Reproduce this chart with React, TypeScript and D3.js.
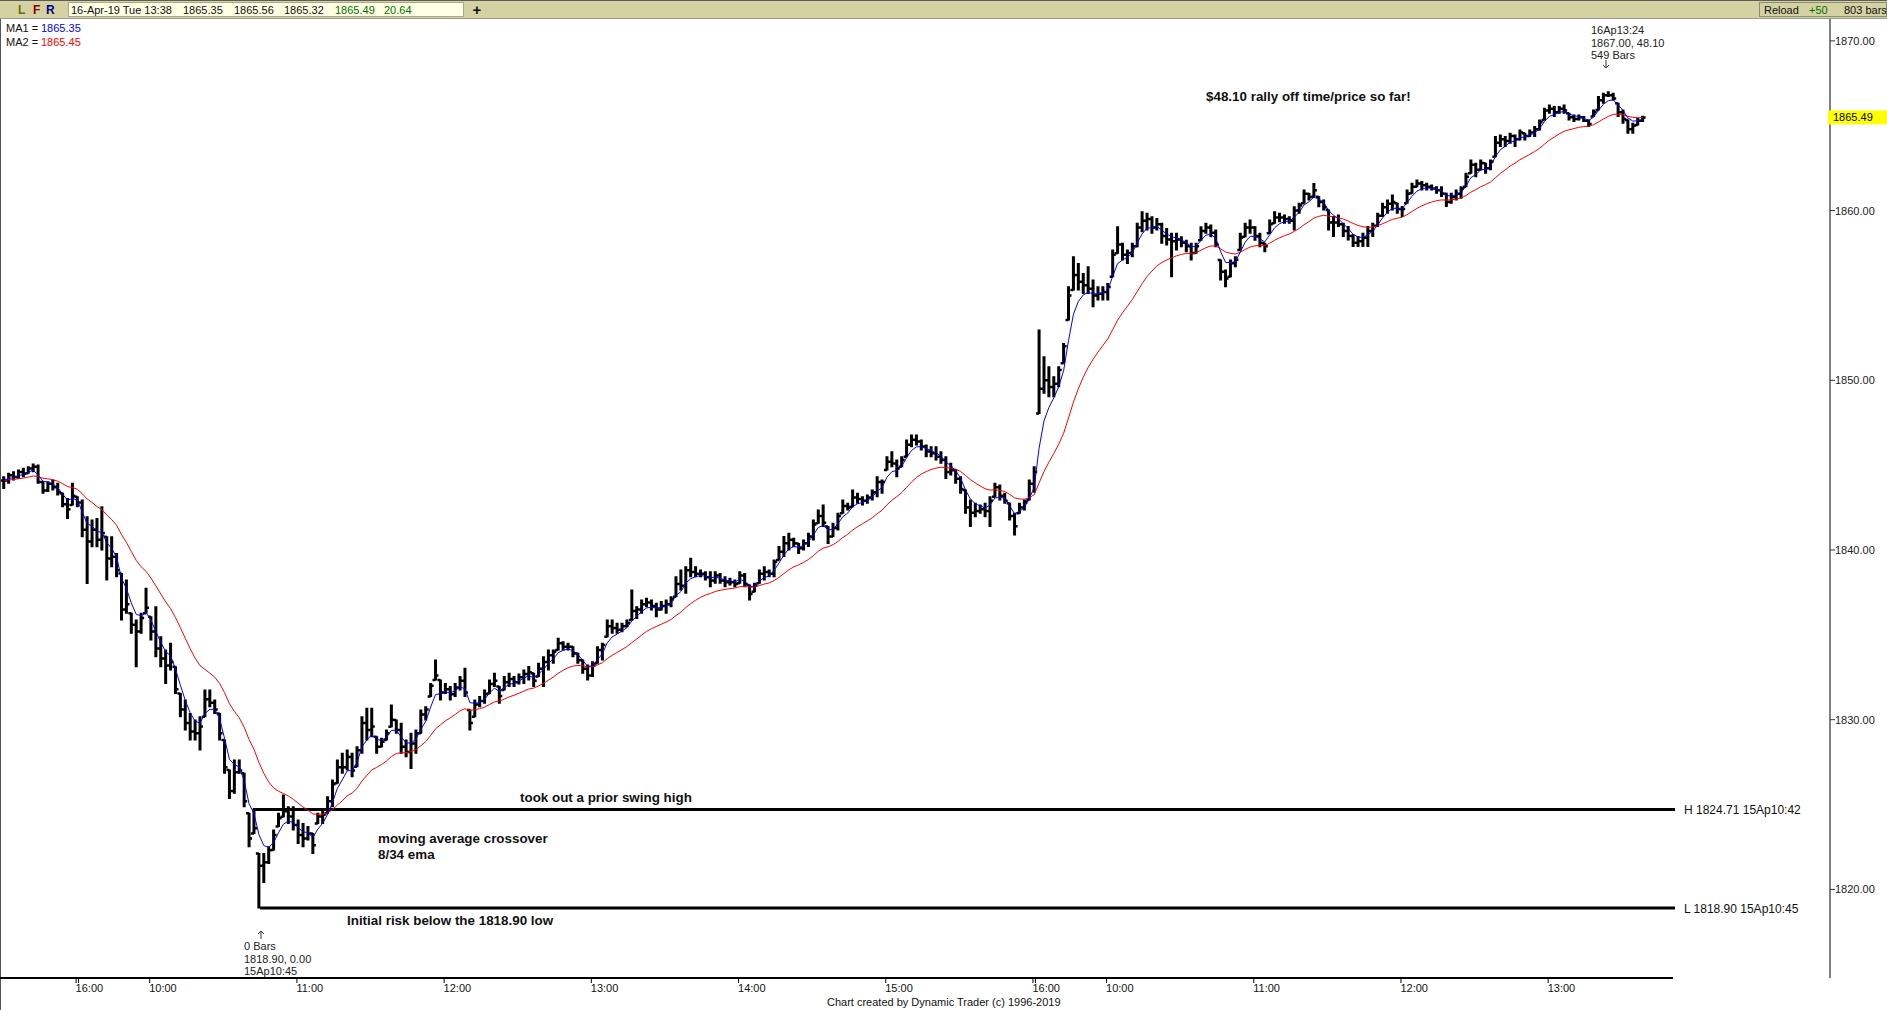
import React from "react";
import * as d3 from "d3";

// 2-minute bars (index j -> minutes 2j..2j+1 from 12-Apr 15:30)
const highs = [
  1844.32, 1844.52, 1844.61, 1844.71, 1844.81, 1844.91, 1845.07, 1845.01, 1844.02, 1844.02,
  1844.12, 1843.93, 1843.34, 1843.04, 1843.93, 1843.14, 1842.94, 1841.96, 1841.77, 1841.86,
  1842.55, 1840.78, 1840.78, 1839.80, 1838.62, 1838.23, 1836.27, 1835.87, 1836.27, 1837.74,
  1836.07, 1836.66, 1834.89, 1834.11, 1834.50, 1833.12, 1831.55, 1831.16, 1830.37, 1829.98,
  1830.18, 1831.75, 1831.75, 1831.16, 1830.37, 1828.80, 1827.03, 1827.62, 1827.62, 1826.84,
  1824.48, 1824.71, 1822.12, 1822.12, 1822.52, 1823.50, 1824.48, 1825.56, 1824.87, 1824.87,
  1824.09, 1823.89, 1823.70, 1823.30, 1824.48, 1824.68, 1825.46, 1826.45, 1827.62, 1828.02,
  1828.22, 1828.02, 1828.41, 1830.18, 1830.67, 1830.67, 1829.00, 1828.90, 1829.39, 1830.87,
  1829.98, 1829.79, 1828.80, 1829.20, 1829.39, 1830.57, 1830.77, 1832.14, 1833.52, 1832.34,
  1832.14, 1831.95, 1832.14, 1832.54, 1833.03, 1830.57, 1831.16, 1831.36, 1831.75, 1832.34,
  1832.73, 1831.95, 1832.54, 1832.73, 1832.54, 1832.70, 1832.93, 1833.13, 1832.73, 1833.32,
  1833.71, 1834.11, 1834.11, 1834.80, 1834.60, 1834.50, 1834.30, 1833.91, 1833.52, 1833.22,
  1833.42, 1834.30, 1834.50, 1835.88, 1835.88, 1835.68, 1835.68, 1835.88, 1837.64, 1836.66,
  1837.05, 1837.15, 1837.05, 1836.86, 1836.96, 1837.05, 1837.25, 1838.43, 1838.82, 1839.02,
  1839.51, 1839.02, 1838.82, 1838.72, 1838.72, 1838.72, 1838.62, 1838.43, 1838.33, 1838.23,
  1838.72, 1838.62, 1837.94, 1838.04, 1838.82, 1839.02, 1838.82, 1839.41, 1840.20, 1840.79,
  1840.98, 1840.69, 1840.39, 1840.59, 1840.98, 1841.77, 1842.36, 1842.65, 1841.38, 1841.57,
  1842.16, 1842.95, 1842.75, 1843.54, 1843.34, 1843.14, 1843.24, 1843.54, 1844.32, 1844.12,
  1845.50, 1845.79, 1845.30, 1845.50, 1846.48, 1846.78, 1846.78, 1846.48, 1846.19, 1846.09,
  1846.09, 1845.79, 1845.50, 1845.11, 1844.71, 1844.32, 1843.54, 1842.95, 1842.75, 1842.65,
  1842.75, 1843.14, 1843.93, 1843.83, 1843.34, 1842.75, 1842.16, 1842.75, 1842.95, 1844.12,
  1844.90, 1852.96, 1851.39, 1850.80, 1850.21, 1850.80, 1852.17, 1855.51, 1857.28, 1856.89,
  1856.30, 1856.69, 1855.91, 1855.51, 1855.51, 1855.71, 1857.68, 1859.05, 1858.07, 1857.68,
  1858.07, 1859.25, 1859.93, 1859.84, 1859.64, 1859.54, 1859.25, 1858.95, 1858.66, 1858.66,
  1858.46, 1858.26, 1858.07, 1858.07, 1859.05, 1859.25, 1859.15, 1858.85, 1857.09, 1856.50,
  1857.09, 1857.28, 1858.66, 1859.25, 1859.44, 1859.05, 1858.66, 1858.07, 1859.44, 1859.93,
  1859.84, 1859.74, 1859.64, 1860.23, 1860.43, 1861.21, 1861.01, 1861.60, 1860.82, 1860.62,
  1860.03, 1859.65, 1859.74, 1859.25, 1859.06, 1858.57, 1858.47, 1858.66, 1859.06, 1859.25,
  1859.84, 1860.43, 1860.63, 1860.92, 1860.43, 1860.24, 1861.22, 1861.61, 1861.81, 1861.71,
  1861.61, 1861.51, 1861.41, 1861.41, 1861.02, 1861.02, 1861.22, 1861.41, 1862.20, 1862.98,
  1862.79, 1862.98, 1862.79, 1862.98, 1864.36, 1864.46, 1864.36, 1864.56, 1864.46, 1864.75,
  1864.56, 1864.75, 1864.95, 1865.34, 1866.03, 1866.23, 1866.13, 1866.13, 1866.23, 1865.74,
  1865.64, 1865.64, 1865.54, 1865.34, 1865.93, 1866.72, 1866.91, 1867.00, 1866.91, 1866.33,
  1865.93, 1865.34, 1865.15, 1865.44, 1865.56,
];

const lows = [
  1843.63, 1843.93, 1844.12, 1844.22, 1844.32, 1844.52, 1844.61, 1843.93, 1843.34, 1843.44,
  1843.53, 1843.24, 1842.55, 1841.86, 1842.65, 1842.55, 1840.78, 1838.03, 1840.19, 1840.19,
  1840.00, 1838.23, 1839.02, 1838.43, 1835.87, 1836.27, 1835.09, 1833.12, 1835.09, 1836.27,
  1834.70, 1833.71, 1833.12, 1832.14, 1832.93, 1831.55, 1830.18, 1829.39, 1828.80, 1828.80,
  1828.21, 1830.18, 1830.77, 1830.37, 1828.80, 1826.84, 1825.36, 1825.66, 1826.84, 1824.87,
  1822.52, 1823.30, 1818.90, 1820.40, 1821.53, 1822.32, 1823.70, 1824.28, 1823.89, 1823.50,
  1822.71, 1822.52, 1822.91, 1822.12, 1823.89, 1823.89, 1824.48, 1824.87, 1826.25, 1826.84,
  1827.04, 1826.64, 1827.23, 1828.02, 1828.80, 1829.00, 1828.02, 1828.41, 1828.80, 1829.59,
  1829.20, 1828.02, 1827.82, 1827.13, 1828.02, 1829.20, 1829.98, 1831.36, 1832.34, 1831.16,
  1831.55, 1831.16, 1831.36, 1831.75, 1831.36, 1829.39, 1830.18, 1830.77, 1830.97, 1831.55,
  1831.95, 1830.97, 1831.75, 1831.95, 1831.95, 1832.10, 1832.14, 1832.34, 1831.95, 1832.54,
  1831.95, 1832.93, 1833.32, 1834.11, 1834.11, 1834.11, 1833.71, 1833.32, 1832.73, 1832.34,
  1832.54, 1833.32, 1833.52, 1834.89, 1835.09, 1835.09, 1835.19, 1835.48, 1835.88, 1835.97,
  1836.27, 1836.66, 1836.46, 1836.07, 1836.46, 1836.27, 1836.66, 1837.25, 1837.64, 1837.45,
  1838.43, 1838.43, 1838.43, 1838.23, 1837.84, 1838.04, 1838.04, 1837.84, 1837.94, 1837.84,
  1838.04, 1837.84, 1837.05, 1837.54, 1838.04, 1838.23, 1838.43, 1838.43, 1839.41, 1839.61,
  1840.00, 1840.20, 1839.80, 1840.00, 1840.20, 1840.59, 1841.57, 1841.38, 1840.39, 1840.79,
  1841.18, 1842.16, 1842.36, 1842.55, 1842.75, 1842.65, 1842.75, 1842.95, 1843.14, 1843.34,
  1844.71, 1844.91, 1844.32, 1844.91, 1845.50, 1846.09, 1846.19, 1845.89, 1845.50, 1845.50,
  1845.30, 1845.11, 1844.22, 1844.42, 1843.93, 1843.34, 1842.16, 1841.38, 1841.96, 1842.16,
  1841.96, 1841.38, 1843.14, 1842.95, 1842.75, 1841.77, 1840.88, 1842.16, 1842.36, 1842.95,
  1843.40, 1848.05, 1849.23, 1849.03, 1849.03, 1849.62, 1851.00, 1853.55, 1855.32, 1855.32,
  1855.12, 1855.12, 1854.34, 1854.73, 1854.73, 1854.73, 1856.10, 1857.48, 1857.09, 1856.89,
  1857.28, 1857.87, 1858.76, 1858.85, 1858.66, 1858.85, 1858.07, 1857.97, 1856.10, 1857.68,
  1857.87, 1857.58, 1857.09, 1857.48, 1858.26, 1858.66, 1858.46, 1857.87, 1855.91, 1855.51,
  1856.10, 1856.69, 1857.68, 1858.46, 1858.66, 1858.26, 1857.87, 1857.58, 1858.66, 1859.25,
  1859.34, 1859.25, 1859.25, 1858.85, 1859.84, 1860.43, 1860.62, 1860.82, 1860.23, 1860.03,
  1858.86, 1858.47, 1859.06, 1858.47, 1858.27, 1857.88, 1857.88, 1857.88, 1857.88, 1858.47,
  1859.06, 1859.65, 1859.84, 1860.04, 1859.84, 1859.65, 1860.43, 1861.02, 1861.41, 1861.22,
  1861.22, 1861.22, 1861.02, 1860.83, 1860.24, 1860.43, 1860.63, 1860.73, 1861.41, 1862.20,
  1862.00, 1862.40, 1862.20, 1862.40, 1863.18, 1863.77, 1863.77, 1863.97, 1863.77, 1864.16,
  1864.16, 1864.36, 1864.36, 1864.75, 1865.34, 1865.74, 1865.54, 1865.74, 1865.74, 1865.34,
  1865.25, 1865.34, 1865.25, 1864.95, 1865.54, 1865.93, 1866.33, 1866.72, 1866.52, 1865.54,
  1865.15, 1864.56, 1864.56, 1865.05, 1865.25,
];

const closes = [
  1844.10, 1844.40, 1844.30, 1844.60, 1844.50, 1844.80, 1844.90, 1844.00, 1843.50, 1843.90,
  1843.70, 1843.40, 1842.70, 1842.40, 1843.20, 1842.80, 1841.20, 1840.50, 1841.20, 1840.60,
  1841.00, 1839.50, 1839.60, 1838.80, 1836.50, 1836.80, 1835.60, 1835.20, 1836.00, 1836.60,
  1835.20, 1834.20, 1833.60, 1833.20, 1833.40, 1831.80, 1830.60, 1829.80, 1829.30, 1829.20,
  1829.60, 1831.20, 1831.00, 1830.60, 1829.20, 1827.20, 1825.80, 1826.90, 1827.00, 1825.20,
  1823.00, 1823.60, 1821.40, 1821.60, 1822.30, 1823.20, 1824.20, 1824.60, 1824.30, 1823.80,
  1823.20, 1823.00, 1823.30, 1822.60, 1824.30, 1824.40, 1825.20, 1826.20, 1827.20, 1827.20,
  1827.80, 1827.00, 1828.20, 1829.80, 1829.40, 1829.60, 1828.40, 1828.70, 1829.20, 1830.00,
  1829.40, 1828.40, 1828.10, 1828.60, 1829.20, 1830.30, 1830.60, 1832.00, 1832.60, 1831.60,
  1831.80, 1831.50, 1831.90, 1832.30, 1831.60, 1829.80, 1830.90, 1831.10, 1831.50, 1832.10,
  1832.30, 1831.40, 1832.20, 1832.40, 1832.20, 1832.50, 1832.70, 1832.80, 1832.30, 1833.00,
  1833.40, 1833.80, 1834.00, 1834.50, 1834.30, 1834.30, 1833.90, 1833.50, 1833.00, 1832.60,
  1833.20, 1834.10, 1834.40, 1835.50, 1835.40, 1835.30, 1835.50, 1835.70, 1836.40, 1836.50,
  1836.80, 1836.90, 1836.70, 1836.50, 1836.70, 1836.80, 1837.10, 1838.00, 1837.90, 1838.80,
  1838.70, 1838.60, 1838.60, 1838.40, 1838.20, 1838.50, 1838.20, 1838.10, 1838.10, 1838.00,
  1838.50, 1838.00, 1837.40, 1837.90, 1838.60, 1838.70, 1838.60, 1839.30, 1839.90, 1840.40,
  1840.60, 1840.40, 1840.10, 1840.40, 1840.80, 1841.50, 1842.00, 1841.60, 1840.80, 1841.30,
  1842.00, 1842.60, 1842.50, 1843.10, 1843.00, 1842.90, 1843.10, 1843.40, 1844.00, 1844.00,
  1845.20, 1845.10, 1844.80, 1845.30, 1846.20, 1846.50, 1846.40, 1846.10, 1845.80, 1845.70,
  1845.50, 1845.30, 1844.60, 1844.70, 1844.20, 1843.60, 1842.50, 1842.20, 1842.30, 1842.40,
  1842.30, 1842.90, 1843.70, 1843.20, 1842.90, 1842.00, 1841.40, 1842.50, 1842.80, 1843.90,
  1844.60, 1849.50, 1850.00, 1849.60, 1849.80, 1850.60, 1852.00, 1855.00, 1856.20, 1855.80,
  1855.60, 1855.40, 1855.00, 1855.10, 1855.20, 1855.50, 1857.40, 1858.00, 1857.40, 1857.50,
  1857.90, 1859.00, 1859.40, 1859.50, 1859.00, 1859.20, 1858.50, 1858.30, 1858.20, 1858.30,
  1858.10, 1857.90, 1857.50, 1857.90, 1858.80, 1859.00, 1858.70, 1858.00, 1856.40, 1856.00,
  1856.90, 1857.10, 1858.40, 1859.00, 1859.00, 1858.50, 1858.10, 1857.90, 1859.20, 1859.60,
  1859.60, 1859.50, 1859.40, 1860.00, 1860.30, 1861.00, 1860.80, 1861.20, 1860.50, 1860.20,
  1859.30, 1859.30, 1859.20, 1858.80, 1858.50, 1858.10, 1858.20, 1858.40, 1858.80, 1859.10,
  1859.70, 1860.20, 1860.40, 1860.50, 1860.10, 1860.10, 1861.00, 1861.40, 1861.60, 1861.50,
  1861.40, 1861.30, 1861.20, 1861.00, 1860.50, 1860.80, 1861.00, 1861.30, 1862.00, 1862.70,
  1862.40, 1862.80, 1862.50, 1862.90, 1864.00, 1864.20, 1864.10, 1864.40, 1864.20, 1864.60,
  1864.40, 1864.60, 1864.80, 1865.20, 1865.90, 1866.00, 1865.80, 1866.00, 1865.90, 1865.50,
  1865.40, 1865.50, 1865.30, 1865.10, 1865.80, 1866.50, 1866.80, 1866.80, 1866.60, 1865.80,
  1865.40, 1864.80, 1865.00, 1865.30, 1865.49,
];

const priceTicks = [1820, 1830, 1840, 1850, 1860, 1870];
// minute index of each time label (0 = 12-Apr 15:30)
const timeTickIdx = [30, 60, 120, 180, 240, 300, 360, 420, 450, 510, 570, 630];
const timeTickLabels = ["16:00", "10:00", "11:00", "12:00", "13:00", "14:00", "15:00", "16:00", "10:00", "11:00", "12:00", "13:00"];
const sessionCloseTicks = [30, 420];

const swingHigh = { price: 1824.71, idx: 102, label: "H 1824.71 15Ap10:42" };
const swingLow = { price: 1818.9, idx: 105, label: "L 1818.90 15Ap10:45" };
const lastPrice = 1865.49;

const SANS = "'Liberation Sans', Arial, Helvetica, sans-serif";

export default function App() {
  const x = d3.scaleLinear().domain([0, 668]).range([2.5, 1641.4]);
  const y = d3.scaleLinear().domain([1820, 1870]).range([889.4, 40.9]);
  const bx = (j: number) => x(2 * j + 0.5);

  const ema = (period: number) => {
    const a = 2 / (period + 1);
    let e = closes[0];
    return closes.map((c, i) => (e = i === 0 ? c : e + a * (c - e)));
  };
  const ma1 = ema(4);
  const ma2 = ema(17);
  const line = d3
    .line<number>()
    .x((_, j) => bx(j))
    .y((v) => y(v));

  let vPath = "";
  let tPath = "";
  highs.forEach((h, j) => {
    const cx = bx(j);
    const lo = lows[j];
    vPath += `M${cx.toFixed(2)},${(y(h) - 0.5).toFixed(2)}V${(y(lo) + 0.5).toFixed(2)}`;
    const prev = j > 0 ? closes[j - 1] : closes[0];
    const o = Math.min(Math.max(prev, lo), h);
    tPath += `M${(cx - 3).toFixed(2)},${y(o).toFixed(2)}H${cx.toFixed(2)}`;
    tPath += `M${cx.toFixed(2)},${y(closes[j]).toFixed(2)}H${(cx + 3).toFixed(2)}`;
  });

  const axisY = 978;
  const rightAxisX = 1830;
  const lineEnd = 1675;

  const boldAnno = { fontFamily: SANS, fontSize: 13.4, fontWeight: 700, fill: "#111" } as const;
  const small = { fontFamily: SANS, fontSize: 11, fill: "#222" } as const;

  return (
    <svg
      width={1887}
      height={1010}
      style={{ position: "absolute", left: 0, top: 0, display: "block" }}
    >
      <rect x={0} y={0} width={1887} height={1010} fill="#ffffff" />

      {/* header bar */}
      <rect x={0} y={0} width={1887} height={19} fill="#d4d1a3" />
      <line x1={0} x2={1887} y1={0.5} y2={0.5} stroke="#5c5c5c" />
      <line x1={0} x2={1887} y1={18.5} y2={18.5} stroke="#9a9a9a" />
      <text x={18} y={14} fontFamily={SANS} fontSize={12} fontWeight={700} fill="#6e6e00">L</text>
      <text x={33} y={14} fontFamily={SANS} fontSize={12} fontWeight={700} fill="#8b0000">F</text>
      <text x={46} y={14} fontFamily={SANS} fontSize={12} fontWeight={700} fill="#00008b">R</text>
      <rect x={68.5} y={2.5} width={395} height={14} fill="#ffffe4" stroke="#a9a98a" />
      <text x={71} y={14} {...small} fill="#111">16-Apr-19 Tue 13:38</text>
      <text x={183} y={14} {...small} fill="#111">1865.35</text>
      <text x={234} y={14} {...small} fill="#111">1865.56</text>
      <text x={284} y={14} {...small} fill="#111">1865.32</text>
      <text x={335} y={14} {...small} fill="#007000">1865.49</text>
      <text x={384} y={14} {...small} fill="#007000">20.64</text>
      <text x={477} y={15} fontFamily={SANS} fontSize={15} fontWeight={700} fill="#111" textAnchor="middle">+</text>
      <rect x={1759.5} y={2.5} width={127} height={14} fill="#d4d1a3" stroke="#8c8c70" />
      <text x={1764} y={14} {...small} fill="#111">Reload</text>
      <text x={1809} y={14} {...small} fill="#007000">+50</text>
      <text x={1844} y={14} {...small} fill="#111">803 bars</text>

      {/* left border */}
      <line x1={0.5} x2={0.5} y1={19} y2={1010} stroke="#555" />

      {/* MA legend */}
      <text x={6} y={32} {...small} fill="#111">MA1 =</text>
      <text x={41} y={32} {...small} fill="#0000ff">1865.35</text>
      <text x={6} y={45.5} {...small} fill="#111">MA2 =</text>
      <text x={41} y={45.5} {...small} fill="#ff0000">1865.45</text>

      {/* swing high / low lines */}
      <line x1={x(swingHigh.idx)} x2={lineEnd} y1={y(swingHigh.price)} y2={y(swingHigh.price)} stroke="#000" strokeWidth={3} />
      <line x1={x(swingLow.idx)} x2={lineEnd} y1={y(swingLow.price)} y2={y(swingLow.price)} stroke="#000" strokeWidth={3} />
      <text x={1684} y={y(swingHigh.price) + 4.5} fontFamily={SANS} fontSize={12} fill="#111">{swingHigh.label}</text>
      <text x={1684} y={y(swingLow.price) + 4.5} fontFamily={SANS} fontSize={12} fill="#111">{swingLow.label}</text>

      {/* price bars */}
      <path d={vPath} stroke="#000" strokeWidth={3} fill="none" />
      <path d={tPath} stroke="#000" strokeWidth={2.5} fill="none" />

      {/* moving averages */}
      <path d={line(ma2) || ""} stroke="#ff0000" strokeWidth={1} fill="none" />
      <path d={line(ma1) || ""} stroke="#0000ff" strokeWidth={1} fill="none" />

      {/* annotations */}
      <text x={1206} y={101} {...boldAnno}>$48.10 rally off time/price so far!</text>
      <text x={520} y={802} {...boldAnno}>took out a prior swing high</text>
      <text x={378} y={843} {...boldAnno}>moving average crossover</text>
      <text x={378} y={859} {...boldAnno}>8/34 ema</text>
      <text x={347} y={924.5} {...boldAnno}>Initial risk below the 1818.90 low</text>

      <text x={1591} y={34} {...small}>16Ap13:24</text>
      <text x={1591} y={47} {...small}>1867.00, 48.10</text>
      <text x={1591} y={59} {...small}>549 Bars</text>
      {/* down arrow */}
      <path d="M1606,60V68M1603,65L1606,68L1609,65" stroke="#333" strokeWidth={1} fill="none" />

      {/* up arrow */}
      <path d="M261,939V931M258,934L261,931L264,934" stroke="#333" strokeWidth={1} fill="none" />
      <text x={244} y={950} {...small}>0 Bars</text>
      <text x={244} y={963} {...small}>1818.90, 0.00</text>
      <text x={244} y={975} {...small}>15Ap10:45</text>

      {/* right price axis */}
      <line x1={rightAxisX} x2={rightAxisX} y1={19} y2={axisY} stroke="#808080" strokeWidth={2} />
      {priceTicks.map((p) => (
        <g key={p}>
          <line x1={rightAxisX} x2={rightAxisX + 5} y1={y(p)} y2={y(p)} stroke="#333" />
          <text x={rightAxisX + 5} y={y(p) + 4} {...small}>{p.toFixed(2)}</text>
        </g>
      ))}
      <rect x={1828} y={y(lastPrice) - 7} width={59} height={14} fill="#ffff00" />
      <text x={1833} y={y(lastPrice) + 4} {...small} fill="#000">{lastPrice.toFixed(2)}</text>

      {/* time axis */}
      <line x1={0} x2={1673} y1={axisY} y2={axisY} stroke="#000" strokeWidth={2} />
      {timeTickIdx.map((t, i) => (
        <g key={i}>
          <line x1={x(t)} x2={x(t)} y1={axisY} y2={axisY + 5} stroke="#000" />
          <text x={x(t) - 0.5} y={992} {...small} fill="#111">{timeTickLabels[i]}</text>
        </g>
      ))}
      {sessionCloseTicks.map((t) => (
        <line key={t} x1={x(t + 1)} x2={x(t + 1)} y1={axisY} y2={axisY + 5} stroke="#000" />
      ))}
      <text x={827} y={1006} {...small} fill="#111">Chart created by Dynamic Trader  (c) 1996-2019</text>
    </svg>
  );
}
